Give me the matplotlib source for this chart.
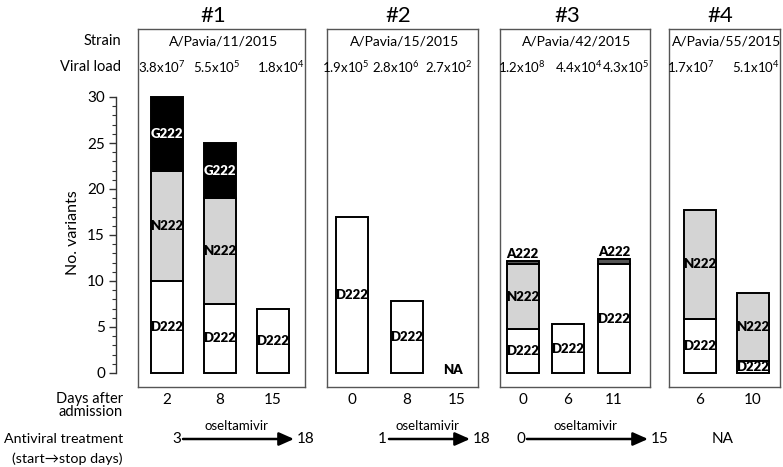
import matplotlib
matplotlib.use('Agg')
import matplotlib.pyplot as plt
import numpy as np

plt.rcParams['font.family'] = ['Lato', 'DejaVu Sans']
plt.rcParams['mathtext.fontset'] = 'custom'
plt.rcParams['mathtext.rm'] = 'Lato'
plt.rcParams['mathtext.it'] = 'Lato:italic'
plt.rcParams['mathtext.bf'] = 'Lato:bold'

# ---------------- data ----------------
patients = ['#1', '#2', '#3', '#4']
strains = ['A/Pavia/11/2015', 'A/Pavia/15/2015', 'A/Pavia/42/2015', 'A/Pavia/55/2015']
viral_loads = [['3.8x10$^{7}$', '5.5x10$^{5}$', '1.8x10$^{4}$'],
               ['1.9x10$^{5}$', '2.8x10$^{6}$', '2.7x10$^{2}$'],
               ['1.2x10$^{8}$', '4.4x10$^{4}$', '4.3x10$^{5}$'],
               ['1.7x10$^{7}$', '5.1x10$^{4}$']]
days = [['2', '8', '15'], ['0', '8', '15'], ['0', '6', '11'], ['6', '10']]
# segment heights (No. variants); NaN = not available
d222 = [[10, 7.5, 7], [17, 7.8, np.nan], [4.8, 5.3, 11.8], [5.9, 1.3]]
n222 = [[12, 11.5, 0], [0, 0, np.nan], [7.0, 0, 0], [11.8, 7.4]]
g222 = [[8, 6, 0], [0, 0, np.nan], [0, 0, 0], [0, 0]]
a222 = [[0, 0, 0], [0, 0, np.nan], [0.4, 0, 0.6], [0, 0]]
treat_start = ['3', '1', '0', None]
treat_stop = ['18', '18', '15', None]
drug = 'oseltamivir'

# ---------------- layout (pixels) ----------------
W, H = 783, 467
fig = plt.figure(figsize=(W / 100, H / 100), dpi=100)

def rect(x0, y0, x1, y1):
    return [x0 / W, 1 - y1 / H, (x1 - x0) / W, (y1 - y0) / H]

top_px, bot_px = 29, 387
zero_px, px_per_unit = 373, 9.2
ylim = ((zero_px - bot_px) / px_per_unit, (zero_px - top_px) / px_per_unit)

panel_px = [(138, 305), (327, 478), (500, 650), (669, 780)]
bar_centers = [[167, 220, 273], [351.5, 406.5, 457], [522.5, 567.5, 614], [700, 753]]
bar_w = 32
vl_x = [[162, 217, 281], [346, 396, 449], [522, 579, 626], [691, 756]]
title_x = [213, 398, 567, 720]
arrow_px = [(183, 284), (389, 460), (527, 638), None]

segs = [(d222, 'white', 'black'), (n222, '#d4d4d4', 'black'),
        (g222, 'black', 'white'), (a222, '#555555', 'black')]
seg_names = ['D222', 'N222', 'G222', 'A222']

for p in range(4):
    x0, x1 = panel_px[p]
    ax = fig.add_axes(rect(x0, top_px, x1, bot_px))
    ax.set_xlim(x0, x1)
    ax.set_ylim(*ylim)
    ax.set_xticks([])
    ax.set_yticks([])
    for s in ax.spines.values():
        s.set_color('#555555')
        s.set_linewidth(1.0)
    centers = bar_centers[p]
    for i, c in enumerate(centers):
        if np.isnan(d222[p][i]):
            ax.text(c - 4, 0.3, 'NA', ha='center', va='center', fontsize=9.5,
                    fontweight='heavy')
            continue
        bottom = 0
        for (vals, fc, tc), name in zip(segs, seg_names):
            h = vals[p][i]
            if h <= 0:
                continue
            ax.bar(c, h, bottom=bottom, width=bar_w, color=fc, edgecolor='black',
                   linewidth=1.4, zorder=2)
            if name == 'A222':
                ax.text(c, bottom + h + 0.05, name, ha='center', va='bottom',
                        fontsize=9.5, fontweight='heavy', color=tc, zorder=3)
            else:
                ax.text(c, bottom + h / 2, name, ha='center', va='center',
                        fontsize=9.5, fontweight='heavy', color=tc, zorder=3)
            bottom += h
    # strain and viral load rows
    ax.text((x0 + x1) / 2 + 2, (zero_px - 41) / px_per_unit, strains[p],
            ha='center', va='center', fontsize=10)
    for i, vl in enumerate(viral_loads[p]):
        ax.text(vl_x[p][i], (zero_px - 67) / px_per_unit, vl,
                ha='center', va='center', fontsize=9.5)

# y axis
axy = fig.add_axes(rect(116, top_px, 117, bot_px))
axy.set_ylim(*ylim)
axy.set_xticks([])
for k in ['top', 'right', 'bottom']:
    axy.spines[k].set_visible(False)
axy.spines['left'].set_bounds(0, 30)
axy.spines['left'].set_linewidth(1.0)
axy.spines['left'].set_color('#333333')
axy.set_yticks(np.arange(0, 31, 5))
axy.set_yticks(np.arange(0, 31, 1), minor=True)
axy.tick_params(axis='y', which='major', length=5, width=1.0, labelsize=11, pad=3,
                color='#333333')
axy.tick_params(axis='y', which='minor', length=3, width=0.8, color='#333333')
axy.patch.set_visible(False)

# overlay for the rest of the text
ov = fig.add_axes([0, 0, 1, 1])
ov.set_xlim(0, W)
ov.set_ylim(H, 0)
ov.axis('off')

for p in range(4):
    ov.text(title_x[p], 16, patients[p], ha='center', va='center', fontsize=16)
    for i, d in enumerate(days[p]):
        ov.text(bar_centers[p][i], 400, d, ha='center', va='center', fontsize=11)
    if arrow_px[p] is not None:
        a0, a1 = arrow_px[p]
        ov.annotate('', xy=(a1 + 10, 439), xytext=(a0, 439),
                    arrowprops=dict(arrowstyle='-|>,head_length=0.9,head_width=0.4',
                                    color='black', lw=1.8, shrinkA=0, shrinkB=0))
        ov.text(a0 - 2, 439, treat_start[p], ha='right', va='center', fontsize=11)
        ov.text(a1 + 13, 439, treat_stop[p], ha='left', va='center', fontsize=11)
        ov.text((a0 + a1) / 2 + 3, 432, drug, ha='center', va='bottom', fontsize=9.5)
    else:
        ov.text(723, 439, 'NA', ha='center', va='center', fontsize=11)

ov.text(121, 41, 'Strain', ha='right', va='center', fontsize=10.5)
ov.text(121, 67, 'Viral load', ha='right', va='center', fontsize=10.5)
ov.text(123, 399, 'Days after', ha='right', va='center', fontsize=10.5)
ov.text(123, 412, 'admission', ha='right', va='center', fontsize=10.5)
ov.text(123, 439, 'Antiviral treatment', ha='right', va='center', fontsize=10.3)
ov.text(123, 459, '(start\u2192stop days)', ha='right', va='center', fontsize=10.3)
ov.text(73, 233, 'No. variants', ha='center', va='center', rotation=90, fontsize=11.5)

fig.savefig('out.png', dpi=100)
